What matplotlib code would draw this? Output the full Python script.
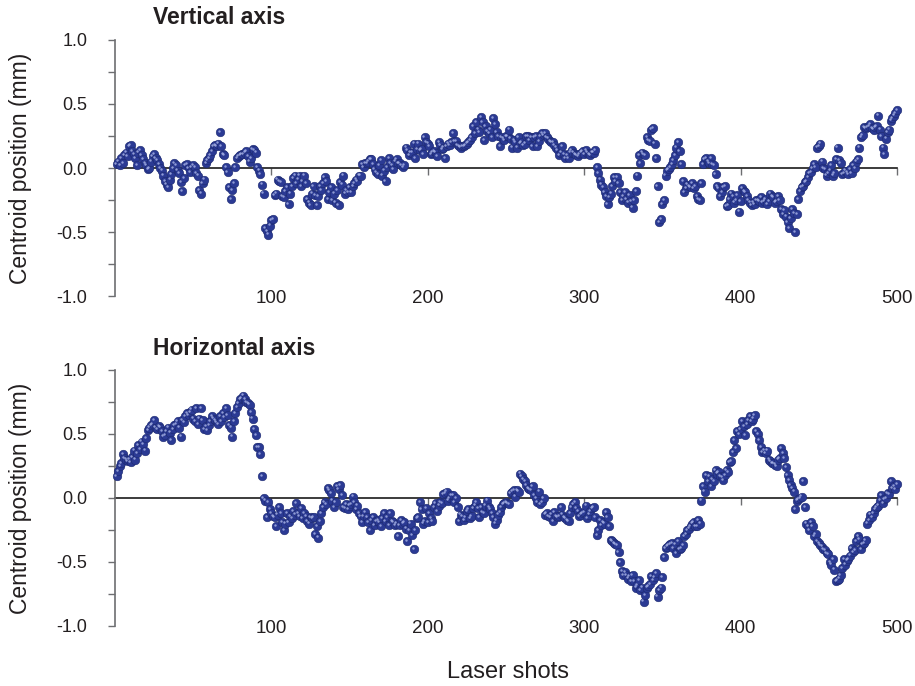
import matplotlib
matplotlib.use("Agg")
import matplotlib.pyplot as plt
import matplotlib.transforms as mtransforms

plt.rcParams["font.family"] = ["Liberation Sans", "DejaVu Sans"]
plt.rcParams["axes.unicode_minus"] = False

shots = list(range(1, 501))

# centroid position (mm), vertical axis, one value per shot
vertical = [
    0.03, 0.05, 0.02, 0.08, 0.04, 0.10, 0.12, 0.09, 0.17, 0.18,
    0.13, 0.11, 0.08, 0.02, 0.12, 0.14, 0.10, 0.07, 0.04, 0.02,
    -0.01, 0.00, 0.05, 0.09, 0.11, 0.08, 0.06, 0.03, 0.00, -0.02,
    -0.06, -0.10, -0.13, -0.15, -0.09, -0.05, 0.00, 0.04, 0.02, -0.02,
    -0.04, -0.11, -0.18, -0.08, 0.02, 0.03, 0.00, -0.03, 0.01, 0.02,
    0.01, -0.04, -0.06, -0.17, -0.20, -0.12, -0.09, 0.04, 0.06, 0.08,
    0.10, 0.13, 0.17, 0.18, 0.17, 0.19, 0.28, 0.17, 0.11, 0.10,
    0.01, -0.03, -0.15, -0.24, -0.17, -0.12, 0.01, 0.08, 0.09, 0.10,
    0.11, 0.11, 0.12, 0.13, 0.09, 0.05, 0.08, 0.15, 0.14, 0.12,
    0.01, -0.02, -0.05, -0.13, -0.20, -0.47, -0.49, -0.52, -0.45, -0.41,
    -0.40, -0.21, -0.20, -0.09, -0.10, -0.11, -0.22, -0.23, -0.18, -0.15,
    -0.28, -0.20, -0.14, -0.08, -0.06, -0.12, -0.09, -0.06, -0.14, -0.10,
    -0.06, -0.12, -0.24, -0.27, -0.29, -0.20, -0.14, -0.21, -0.29, -0.22,
    -0.14, -0.17, -0.12, -0.07, -0.10, -0.24, -0.19, -0.15, -0.25, -0.20,
    -0.27, -0.17, -0.29, -0.11, -0.13, -0.06, -0.20, -0.17, -0.19, -0.15,
    -0.19, -0.14, -0.12, -0.09, -0.10, -0.06, -0.06, 0.03, 0.01, 0.04,
    0.04, 0.05, 0.07, 0.07, 0.03, -0.01, -0.03, -0.05, 0.02, 0.06,
    -0.06, -0.02, -0.10, 0.01, 0.08, 0.04, 0.02, -0.01, 0.05, 0.07,
    0.04, 0.04, 0.02, 0.01, 0.02, 0.16, 0.14, 0.10, 0.12, 0.12,
    0.19, 0.08, 0.15, 0.19, 0.14, 0.15, 0.11, 0.24, 0.20, 0.19,
    0.17, 0.11, 0.12, 0.13, 0.12, 0.09, 0.20, 0.18, 0.15, 0.16,
    0.08, 0.17, 0.19, 0.18, 0.20, 0.27, 0.21, 0.21, 0.18, 0.17,
    0.16, 0.17, 0.17, 0.18, 0.19, 0.20, 0.22, 0.24, 0.33, 0.27,
    0.36, 0.30, 0.28, 0.40, 0.36, 0.22, 0.33, 0.29, 0.27, 0.30,
    0.24, 0.39, 0.34, 0.28, 0.25, 0.17, 0.24, 0.23, 0.22, 0.25,
    0.25, 0.30, 0.23, 0.16, 0.22, 0.20, 0.16, 0.24, 0.19, 0.20,
    0.18, 0.19, 0.25, 0.25, 0.22, 0.24, 0.17, 0.24, 0.25, 0.17,
    0.21, 0.25, 0.27, 0.26, 0.27, 0.24, 0.23, 0.21, 0.20, 0.20,
    0.18, 0.16, 0.14, 0.10, 0.12, 0.17, 0.11, 0.08, 0.10, 0.08,
    0.12, 0.14, 0.12, 0.11, 0.10, 0.09, 0.11, 0.12, 0.13, 0.11,
    0.14, 0.12, 0.11, 0.10, 0.12, 0.12, 0.14, 0.01, -0.04, -0.09,
    -0.13, -0.15, -0.19, -0.22, -0.28, -0.23, -0.20, -0.14, -0.07, -0.10,
    -0.07, -0.12, -0.19, -0.25, -0.22, -0.19, -0.24, -0.27, -0.21, -0.26,
    -0.31, -0.25, -0.18, -0.06, 0.10, 0.04, 0.12, 0.11, 0.10, 0.24,
    0.22, 0.21, 0.30, 0.31, 0.19, 0.08, -0.14, -0.42, -0.40, -0.28,
    -0.25, -0.06, -0.02, -0.01, 0.01, 0.03, 0.06, 0.10, 0.16, 0.20,
    0.13, 0.03, -0.10, -0.19, -0.16, -0.13, -0.14, -0.15, -0.12, -0.16,
    -0.14, -0.22, -0.24, -0.25, -0.12, 0.03, 0.07, 0.08, 0.05, 0.04,
    0.08, 0.03, 0.02, -0.05, -0.14, -0.16, -0.22, -0.19, -0.15, -0.14,
    -0.30, -0.29, -0.24, -0.20, -0.22, -0.27, -0.25, -0.21, -0.34, -0.26,
    -0.16, -0.18, -0.19, -0.22, -0.25, -0.27, -0.29, -0.27, -0.28, -0.25,
    -0.25, -0.26, -0.23, -0.27, -0.26, -0.24, -0.28, -0.26, -0.20, -0.22,
    -0.23, -0.27, -0.26, -0.22, -0.25, -0.32, -0.36, -0.33, -0.38, -0.42,
    -0.47, -0.39, -0.32, -0.35, -0.50, -0.36, -0.24, -0.18, -0.15, -0.14,
    -0.11, -0.10, -0.07, -0.04, -0.03, 0.00, 0.03, 0.01, 0.16, 0.17,
    0.19, 0.05, 0.00, -0.01, -0.06, -0.04, -0.02, 0.02, -0.06, -0.04,
    0.07, 0.16, 0.06, 0.04, -0.05, -0.04, -0.02, -0.03, -0.05, -0.01,
    -0.04, 0.02, 0.00, 0.05, 0.07, 0.16, 0.24, 0.26, 0.32, 0.31,
    0.32, 0.33, 0.34, 0.31, 0.30, 0.32, 0.33, 0.41, 0.30, 0.25,
    0.16, 0.11, 0.23, 0.28, 0.30, 0.37, 0.39, 0.41, 0.43, 0.45,
]

# centroid position (mm), horizontal axis, one value per shot
horizontal = [
    0.17, 0.21, 0.25, 0.27, 0.34, 0.31, 0.30, 0.29, 0.30, 0.28,
    0.32, 0.37, 0.30, 0.35, 0.41, 0.38, 0.44, 0.42, 0.37, 0.47,
    0.53, 0.55, 0.57, 0.58, 0.61, 0.55, 0.54, 0.56, 0.55, 0.52,
    0.48, 0.49, 0.52, 0.55, 0.51, 0.45, 0.54, 0.57, 0.58, 0.60,
    0.55, 0.48, 0.61, 0.59, 0.64, 0.66, 0.65, 0.67, 0.69, 0.62,
    0.60, 0.70, 0.58, 0.62, 0.70, 0.61, 0.54, 0.56, 0.53, 0.57,
    0.60, 0.64, 0.62, 0.61, 0.59, 0.58, 0.64, 0.60, 0.66, 0.63,
    0.70, 0.65, 0.57, 0.55, 0.48, 0.60, 0.66, 0.71, 0.74, 0.77,
    0.78, 0.80, 0.77, 0.75, 0.74, 0.73, 0.67, 0.62, 0.54, 0.49,
    0.40, 0.40, 0.34, 0.17, 0.00, -0.02, -0.15, -0.03, -0.09, -0.12,
    -0.14, -0.15, -0.22, -0.13, -0.07, -0.12, -0.19, -0.25, -0.20, -0.12,
    -0.19, -0.14, -0.16, -0.10, -0.13, -0.04, -0.12, -0.14, -0.08, -0.16,
    -0.12, -0.14, -0.18, -0.20, -0.15, -0.16, -0.15, -0.28, -0.22, -0.31,
    -0.18, -0.12, -0.07, -0.03, -0.05, 0.08, 0.06, 0.04, -0.02, -0.07,
    -0.03, 0.09, 0.07, 0.10, 0.02, -0.07, -0.08, -0.05, -0.09, -0.06,
    -0.05, 0.01, -0.03, -0.09, -0.06, -0.12, -0.14, -0.19, -0.14, -0.11,
    -0.15, -0.19, -0.25, -0.17, -0.15, -0.21, -0.18, -0.17, -0.19, -0.22,
    -0.16, -0.12, -0.18, -0.15, -0.21, -0.12, -0.18, -0.19, -0.21, -0.20,
    -0.30, -0.21, -0.17, -0.20, -0.19, -0.24, -0.34, -0.25, -0.20, -0.29,
    -0.40, -0.25, -0.16, -0.15, -0.03, -0.09, -0.20, -0.18, -0.08, -0.19,
    -0.12, -0.16, -0.18, -0.07, -0.04, -0.10, -0.06, -0.03, -0.04, 0.03,
    0.04, 0.05, -0.02, 0.00, 0.02, 0.02, -0.03, 0.00, -0.07, -0.18,
    -0.13, -0.14, -0.17, -0.15, -0.10, -0.09, -0.16, -0.14, -0.08, -0.06,
    -0.03, -0.08, -0.15, -0.07, -0.11, -0.12, -0.06, -0.02, -0.07, -0.09,
    -0.12, -0.15, -0.20, -0.17, -0.13, -0.11, -0.07, -0.05, -0.04, -0.03,
    -0.04, -0.05, 0.04, 0.05, 0.06, 0.01, 0.06, 0.05, 0.19, 0.17,
    0.15, 0.13, 0.10, 0.08, 0.07, 0.06, 0.09, 0.02, 0.00, -0.03,
    0.05, -0.05, -0.03, 0.00, -0.13, -0.12, -0.14, -0.15, -0.13, -0.18,
    -0.11, -0.14, -0.15, -0.14, -0.07, -0.13, -0.15, -0.16, -0.17, -0.18,
    -0.12, -0.07, -0.05, -0.03, -0.08, -0.10, -0.14, -0.13, -0.12, -0.11,
    -0.06, -0.16, -0.13, -0.10, -0.08, -0.07, -0.15, -0.29, -0.25, -0.17,
    -0.21, -0.19, -0.20, -0.11, -0.15, -0.22, -0.33, -0.34, -0.35, -0.36,
    -0.37, -0.42, -0.50, -0.57, -0.60, -0.58, -0.60, -0.63, -0.61, -0.65,
    -0.60, -0.65, -0.70, -0.68, -0.64, -0.72, -0.70, -0.81, -0.76, -0.70,
    -0.69, -0.67, -0.61, -0.64, -0.62, -0.59, -0.77, -0.72, -0.70, -0.62,
    -0.46, -0.39, -0.38, -0.37, -0.36, -0.35, -0.39, -0.36, -0.43, -0.34,
    -0.40, -0.39, -0.37, -0.30, -0.28, -0.25, -0.24, -0.22, -0.20, -0.19,
    -0.22, -0.22, -0.17, -0.20, -0.02, 0.09, 0.05, 0.18, 0.13, 0.17,
    0.09, 0.15, 0.13, 0.22, 0.19, 0.20, 0.17, 0.16, 0.14, 0.18,
    0.22, 0.20, 0.28, 0.29, 0.36, 0.45, 0.39, 0.52, 0.50, 0.54,
    0.60, 0.56, 0.49, 0.58, 0.61, 0.64, 0.60, 0.62, 0.65, 0.52,
    0.50, 0.45, 0.40, 0.36, 0.37, 0.35, 0.37, 0.30, 0.29, 0.27,
    0.27, 0.26, 0.25, 0.30, 0.31, 0.39, 0.35, 0.31, 0.24, 0.18,
    0.14, 0.10, 0.08, 0.05, -0.09, -0.02, -0.01, 0.00, 0.01, 0.13,
    -0.07, -0.20, -0.22, -0.25, -0.19, -0.22, -0.30, -0.28, -0.34, -0.35,
    -0.37, -0.38, -0.40, -0.41, -0.43, -0.44, -0.50, -0.52, -0.48, -0.56,
    -0.65, -0.64, -0.63, -0.60, -0.55, -0.48, -0.52, -0.49, -0.48, -0.45,
    -0.39, -0.42, -0.41, -0.34, -0.30, -0.32, -0.40, -0.36, -0.35, -0.33,
    -0.20, -0.17, -0.13, -0.15, -0.12, -0.09, -0.07, -0.06, -0.02, 0.02,
    -0.04, -0.01, 0.00, 0.04, 0.03, 0.13, 0.08, 0.09, 0.07, 0.11,
]

panels = [("Vertical axis", vertical), ("Horizontal axis", horizontal)]
xticks = [100, 200, 300, 400, 500]
yticks = [-1.0, -0.5, 0.0, 0.5, 1.0]
ytick_labels = ["-1.0", "-0.5", "0.0", "0.5", "1.0"]

dot_color = "#2b3a94"
shine_color = "#b4bfee"
text_color = "#231f20"
axis_color = "#6d6e71"

fig = plt.figure(figsize=(9.15, 6.86), dpi=100)

axes_boxes = [[0.1257, 0.5685, 0.8546, 0.3732], [0.1257, 0.0875, 0.8546, 0.3732]]
title_y = [0.9738, 0.4913]

for (title, values), box, ty in zip(panels, axes_boxes, title_y):
    ax = fig.add_axes(box)
    ax.set_xlim(0, 500)
    ax.set_ylim(-1.0, 1.0)

    # dots with a small highlight to mimic the shaded spheres
    ax.scatter(shots, values, s=38, color=dot_color, edgecolors="#1d2a70",
               linewidths=0.4, clip_on=False, zorder=3)
    shine = mtransforms.offset_copy(ax.transData, fig=fig, x=-1.2, y=1.2, units="dots")
    ax.scatter(shots, values, s=3, color=shine_color, alpha=0.75, linewidths=0,
               transform=shine, clip_on=False, zorder=4)

    # spines: left axis in grey, zero line acts as the x axis
    ax.spines["top"].set_visible(False)
    ax.spines["right"].set_visible(False)
    ax.spines["left"].set_color(axis_color)
    ax.spines["left"].set_linewidth(1.2)
    ax.spines["bottom"].set_position(("data", 0))
    ax.spines["bottom"].set_color("#1a1a1a")
    ax.spines["bottom"].set_linewidth(1.2)
    ax.spines["bottom"].set_zorder(2)

    ax.set_yticks(yticks)
    ax.set_yticklabels(ytick_labels)
    ax.set_yticks([-0.75, -0.25, 0.25, 0.75], minor=True)
    ax.tick_params(axis="y", which="both", direction="out", length=5, width=1,
                   color=axis_color, labelsize=13, labelcolor=text_color, pad=15)

    ax.set_xticks(xticks)
    ax.tick_params(axis="x", direction="out", length=5, width=1, color=axis_color,
                   labelbottom=False)

    # tick labels sit along the bottom edge of the panel
    sec = ax.secondary_xaxis("bottom")
    sec.set_xticks(xticks)
    sec.spines["bottom"].set_visible(False)
    sec.tick_params(length=0, labelsize=13.5, labelcolor=text_color, pad=-4)

    fig.text(0.1672, ty, title, fontsize=16.5, fontweight="bold", color=text_color,
             ha="left", va="center")
    fig.text(0.022, box[1] + box[3] / 2, "Centroid position (mm)", fontsize=16.5,
             color=text_color, rotation=90, ha="center", va="center")

fig.text(0.555, 0.0204, "Laser shots", fontsize=17, color=text_color,
         ha="center", va="center")

plt.savefig("out.png", dpi=100)
